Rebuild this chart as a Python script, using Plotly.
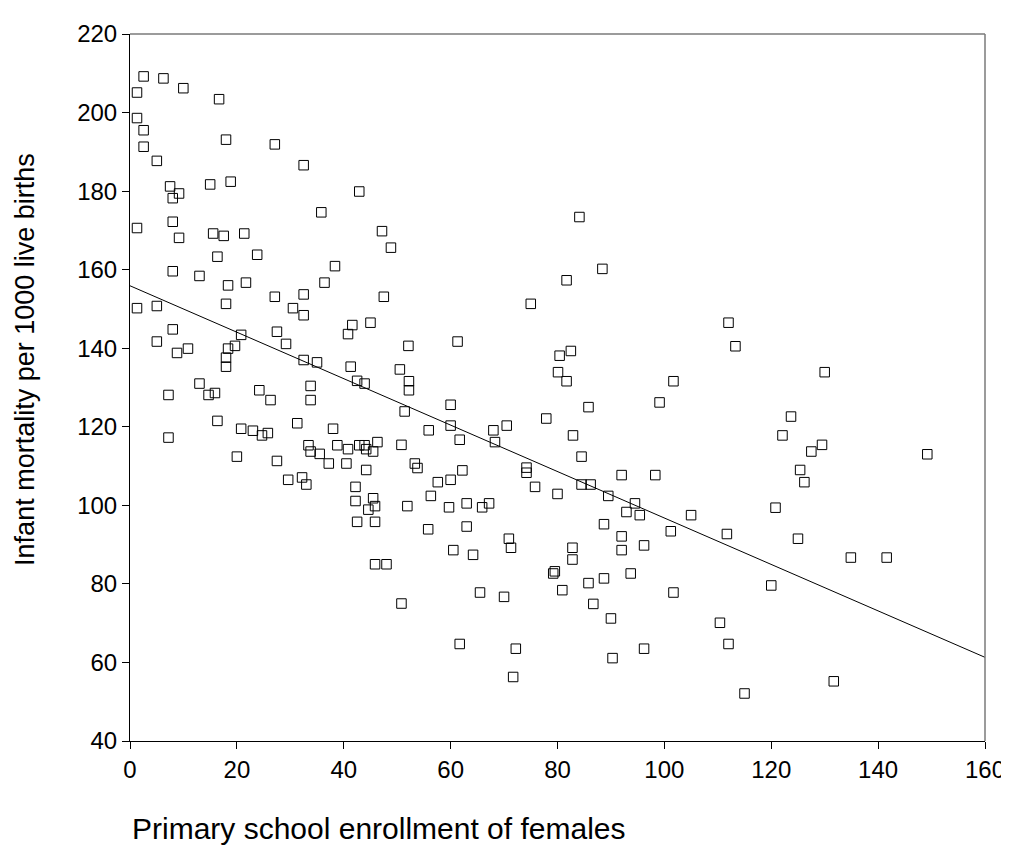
import plotly.graph_objects as go

# Primary school enrollment of females (x) and infant mortality per 1000 live births (y)
enroll = [
    2.55, 6.26, 1.31, 9.98, 16.67, 1.31, 2.55, 17.97, 27.1, 2.55, 5.02, 32.5, 7.5, 9.18, 8.0,
    15.0, 18.84, 42.9, 35.8, 1.31, 8.0, 9.18, 15.56, 17.54, 21.38, 47.16, 48.83, 16.36, 23.8, 38.36,
    84.1, 88.4,
    8.0, 13.0, 18.35, 21.7, 27.1, 32.5, 36.4, 47.5, 1.31, 5.02, 17.97, 30.5, 32.5, 8.0, 5.02,
    8.8, 10.85, 18.35, 19.65, 20.8, 17.97, 17.97, 27.5, 29.2, 32.5, 35.0, 41.6, 40.8, 45.0, 41.3,
    42.5, 43.9, 50.5, 52.1, 52.2, 52.2, 51.4, 13.0, 7.2, 14.7, 15.9, 24.2, 26.3, 33.8, 33.8,
    16.36, 7.2, 20.8, 23.0, 24.7, 25.8, 31.3, 38.0, 20.0, 27.5, 33.4, 33.8, 35.5, 37.2, 38.8,
    40.5, 40.8, 42.9, 43.9, 44.2, 45.5, 46.3, 50.8, 53.3, 53.8, 44.2, 29.6, 32.2, 33.0, 42.2,
    42.2, 45.5, 44.6, 45.86, 51.9, 42.5, 45.86, 45.86, 48.0, 50.8,
    81.7, 75.0, 61.3, 80.4, 82.5, 80.1, 81.7, 101.7, 99.1, 60.0, 85.8, 77.9, 55.9, 60.0, 61.7,
    68.0, 70.5, 68.3, 82.9, 84.5, 62.2, 60.0, 57.6, 56.3, 74.2, 74.2, 75.8, 80.0, 84.5, 86.2,
    89.5, 92.0, 98.3, 94.5,
    59.7, 63.0, 65.9, 67.2, 92.9, 95.4, 105.0, 55.8, 63.0, 70.9, 71.3, 60.5, 64.2, 88.7, 92.0,
    92.0, 96.2, 101.2, 82.8, 82.8, 79.2, 79.5, 80.9, 85.8, 88.7, 93.7, 86.7, 90.0, 65.5, 70.0,
    101.7, 61.7, 72.2, 71.7, 90.3, 96.2,
    112.0, 113.3, 130.0, 123.7, 122.1, 129.5, 127.5, 149.2, 125.4, 126.2, 120.8,
    111.7, 125.0, 134.9, 141.6, 120.0, 110.4, 112.0, 131.7, 115.0,
]
mortality = [
    209.2, 208.7, 205.1, 206.2, 203.4, 198.6, 195.5, 193.1, 191.9, 191.3, 187.7, 186.6, 181.2, 179.4, 178.2,
    181.7, 182.4, 179.9, 174.6, 170.6, 172.2, 168.1, 169.2, 168.6, 169.2, 169.8, 165.6, 163.3, 163.8, 160.9,
    173.4, 160.2,
    159.6, 158.4, 156.0, 156.7, 153.1, 153.7, 156.7, 153.1, 150.2, 150.75, 151.3, 150.2, 148.4, 144.8, 141.7,
    138.8, 139.9, 139.9, 140.6, 143.4, 137.6, 135.3, 144.2, 141.1, 137.0, 136.4, 145.9, 143.6, 146.5, 135.3,
    131.7, 131.0, 134.6, 140.6, 131.6, 129.3, 123.9, 131.0, 128.1, 128.1, 128.6, 129.3, 126.8, 130.4, 126.8,
    121.5, 117.25, 119.5, 119.0, 117.8, 118.4, 120.9, 119.5, 112.4, 111.3, 115.3, 113.7, 113.1, 110.65, 115.3,
    110.65, 114.3, 115.3, 115.3, 114.3, 113.7, 116.1, 115.4, 110.65, 109.5, 109.0, 106.5, 107.1, 105.3, 104.7,
    101.1, 101.8, 98.9, 99.8, 99.8, 95.8, 95.8, 85.0, 85.0, 75.0,
    157.3, 151.3, 141.7, 138.1, 139.3, 133.9, 131.6, 131.6, 126.2, 125.6, 125.0, 122.1, 119.1, 120.3, 116.7,
    119.1, 120.3, 116.1, 117.8, 112.4, 108.9, 106.5, 105.9, 102.4, 109.6, 108.3, 104.7, 102.9, 105.3, 105.3,
    102.4, 107.7, 107.7, 100.5,
    99.5, 100.5, 99.5, 100.5, 98.3, 97.5, 97.5, 93.9, 94.6, 91.5, 89.2, 88.6, 87.4, 95.2, 92.1,
    88.6, 89.8, 93.4, 89.2, 86.2, 82.65, 83.2, 78.4, 80.2, 81.4, 82.65, 74.9, 71.2, 77.8, 76.7,
    77.8, 64.7, 63.5, 56.3, 61.1, 63.5,
    146.5, 140.5, 133.9, 122.6, 117.8, 115.4, 113.7, 113.0, 109.0, 105.9, 99.4,
    92.7, 91.5, 86.7, 86.7, 79.6, 70.1, 64.7, 55.2, 52.1,
]

# Fitted line end points
fit_x = [0, 160]
fit_y = [155.9, 61.3]

x_ticks = [0, 20, 40, 60, 80, 100, 120, 140, 160]
y_ticks = [40, 60, 80, 100, 120, 140, 160, 180, 200, 220]

x_title = "Primary school enrollment of females"
y_title = "Infant mortality per 1000 live births"

FONT = "Arial, 'Liberation Sans', sans-serif"

fig = go.Figure()
fig.add_trace(go.Scatter(
    x=enroll, y=mortality, mode="markers",
    marker=dict(symbol="square-open", size=9.5, color="black", line=dict(width=1, color="black")),
    showlegend=False, hoverinfo="x+y",
))
fig.add_trace(go.Scatter(
    x=fit_x, y=fit_y, mode="lines",
    line=dict(color="black", width=1),
    showlegend=False, hoverinfo="skip",
))

fig.update_layout(
    width=1009, height=854,
    margin=dict(l=122, r=25, t=22, b=121),
    paper_bgcolor="white", plot_bgcolor="white",
    font=dict(family=FONT, color="black", size=24),
    xaxis=dict(
        range=[0, 160], tickvals=x_ticks, ticktext=[str(v) for v in x_ticks],
        showgrid=False, zeroline=False, showline=True, linecolor="black", linewidth=1,
        ticks="outside", ticklen=7, tickcolor="black", tickwidth=1,
        tickfont=dict(family=FONT, size=24, color="black"),
    ),
    yaxis=dict(
        range=[40, 220], tickvals=y_ticks, ticktext=[str(v) for v in y_ticks],
        showgrid=False, zeroline=False, showline=True, linecolor="black", linewidth=1,
        ticks="outside", ticklen=7, tickcolor="black", tickwidth=1,
        tickfont=dict(family=FONT, size=24, color="black"),
    ),
    shapes=[
        dict(type="line", xref="paper", yref="paper", x0=0, x1=1, y0=1, y1=1,
             line=dict(color="#7a7a7a", width=1.5)),
        dict(type="line", xref="paper", yref="paper", x0=1, x1=1, y0=0, y1=1,
             line=dict(color="#7a7a7a", width=1.5)),
    ],
    annotations=[
        dict(text=x_title, xref="paper", yref="paper", x=0, y=-0.098,
             xanchor="left", yanchor="top", showarrow=False,
             font=dict(family=FONT, size=30, color="black")),
        dict(text=y_title, xref="paper", yref="paper", x=-0.122, y=0.54,
             xanchor="center", yanchor="middle", textangle=-90, showarrow=False,
             font=dict(family=FONT, size=27, color="black")),
    ],
)

fig.write_html("out.html")
